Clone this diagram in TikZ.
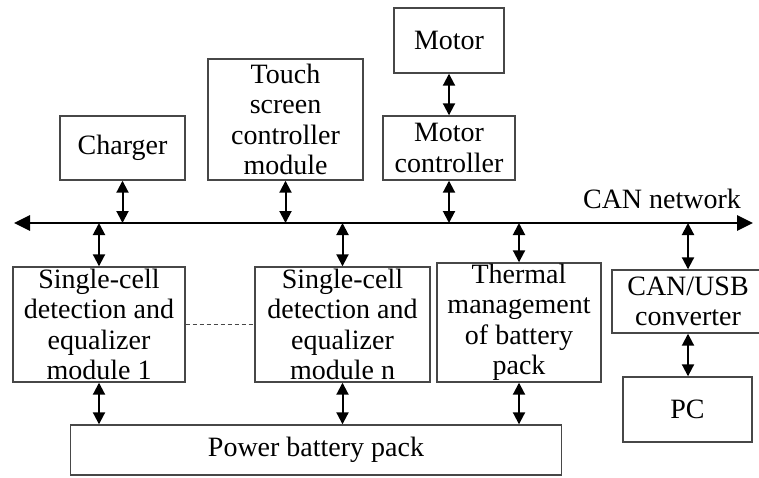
\documentclass[tikz,border=0pt]{standalone}
\usepackage{fontspec}
\setmainfont{Liberation Serif}
\usetikzlibrary{arrows.meta}
\begin{document}
\begin{tikzpicture}[x=1pt,y=-1pt]
\tikzset{
  blk/.style={draw=black!72, line width=1.4pt, inner sep=0pt, align=center,
    font=\fontsize{28}{30.5}\selectfont, text=black},
  link/.style={line width=2pt, {Triangle[length=12pt,width=12pt]}-{Triangle[length=12pt,width=12pt]}},
  bus/.style={line width=2.8pt, {Triangle[length=16pt,width=15pt]}-{Triangle[length=16pt,width=15pt]}},
  lbl/.style={font=\fontsize{28}{30.5}\selectfont, inner sep=0pt}
}
\useasboundingbox (0,0) rectangle (759,477);
\fill[white] (0,0) rectangle (759,477);

\node[blk, minimum width=110pt, minimum height=65pt] (motor) at (449,40.5) {Motor};
\node[blk, minimum width=155pt, minimum height=121pt] (touch) at (285.5,119.5) {Touch\\screen\\controller\\module};
\node[blk, minimum width=125pt, minimum height=64pt] (charger) at (122.5,148) {Charger};
\node[blk, minimum width=132pt, minimum height=64pt] (mctrl) at (449,148) {Motor\\controller};

\coordinate (busL) at (14,223);
\coordinate (busR) at (753,223);
\draw[bus] (busL) -- (busR);
\node[lbl] (canlbl) at (662,199) {CAN network};

\node[blk, minimum width=172pt, minimum height=115pt] (mod1) at (99,324.5) {Single-cell\\detection and\\equalizer\\module 1};
\node[blk, minimum width=175pt, minimum height=115pt] (modn) at (342.5,324.5) {Single-cell\\detection and\\equalizer\\module n};
\node[blk, minimum width=164pt, minimum height=119pt] (thermal) at (519,322.5) {Thermal\\management\\of battery\\pack};
\begin{scope}
\clip (0,0) rectangle (759,477);
\node[blk, minimum width=152pt, minimum height=63pt] (canusb) at (688,301.5) {CAN/USB\\converter};
\end{scope}
\node[blk, minimum width=129pt, minimum height=65pt] (pc) at (687.5,409.5) {PC};
\node[blk, minimum width=491pt, minimum height=50pt] (battery) at (316,450) {Power battery pack};

\draw[link] (motor.south) -- (mctrl.north);
\draw[link] (charger.south) -- (charger.south |- busL);
\draw[link] (touch.south) -- (touch.south |- busL);
\draw[link] (mctrl.south) -- (mctrl.south |- busL);
\draw[link] (mod1.north |- busL) -- (mod1.north);
\draw[link] (modn.north |- busL) -- (modn.north);
\draw[link] (thermal.north |- busL) -- (thermal.north);
\draw[link] (canusb.north |- busL) -- (canusb.north);
\draw[link] (canusb.south) -- (canusb.south |- pc.north);
\draw[link] (mod1.south) -- (mod1.south |- battery.north);
\draw[link] (modn.south) -- (modn.south |- battery.north);
\draw[link] (thermal.south) -- (thermal.south |- battery.north);
\draw[black!72, line width=1pt, dash pattern=on 4pt off 3pt] (mod1.east) -- (modn.west);
\end{tikzpicture}
\end{document}
